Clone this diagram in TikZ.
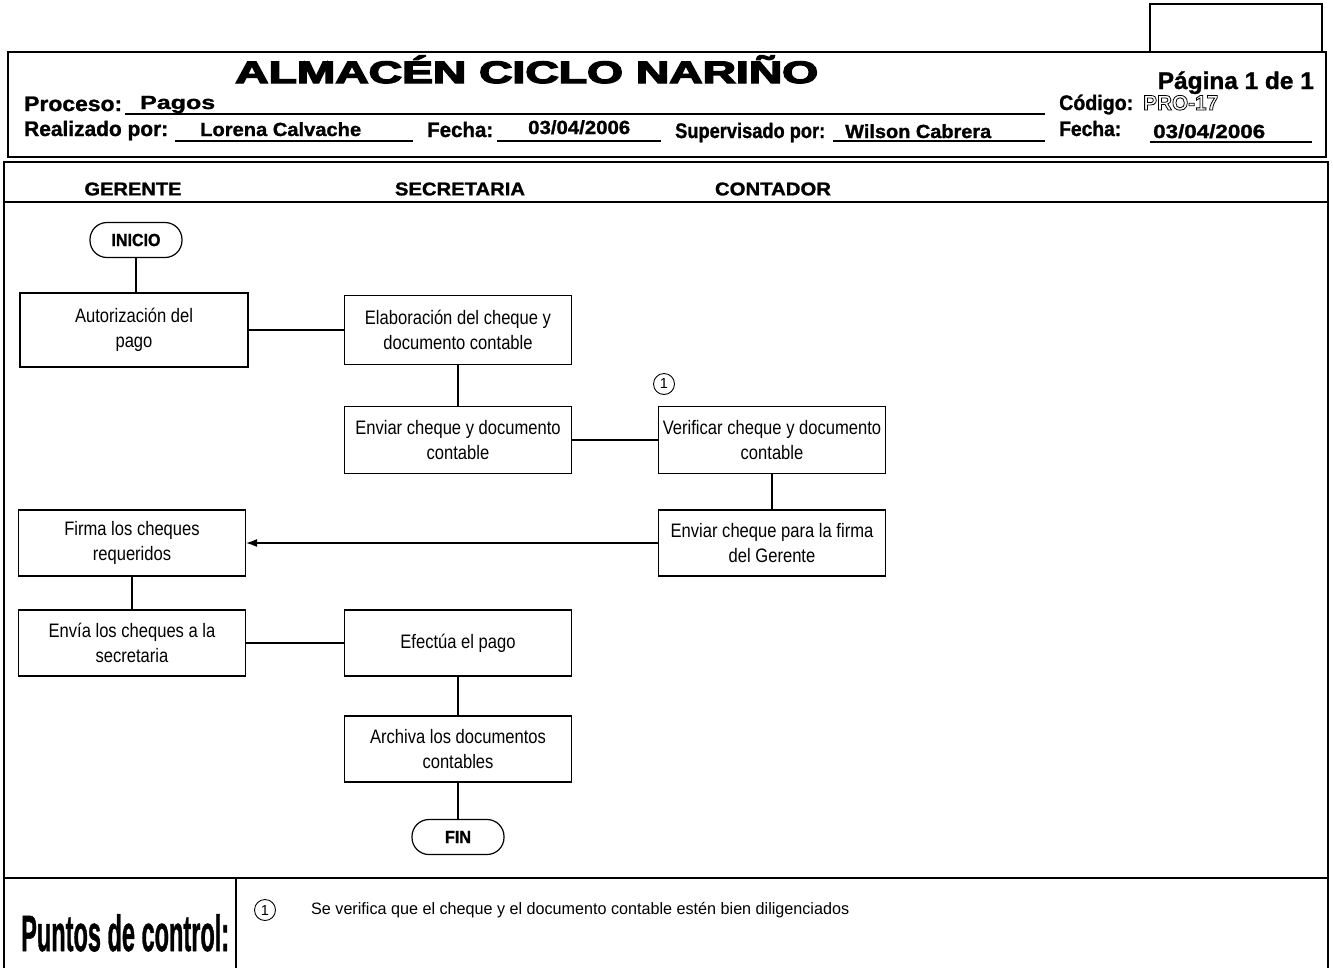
\documentclass[tikz,border=0pt]{standalone}
\usepackage{fontspec}
\usepackage{graphicx}
\setmainfont{Liberation Sans}
\newfontfamily\boxfont[FakeStretch=0.85]{Liberation Sans}
\newfontfamily\heavy[FakeBold=1.2]{Liberation Sans Bold}
\newfontfamily\blackfont[FakeBold=4]{Liberation Sans Bold}
\usetikzlibrary{arrows.meta}

% squeeze or widen a line of text to a given width, keeping its height
\newcommand\fitw[2]{\resizebox{#1pt}{\height}{#2}}
% outlined glyphs (text render mode 1)
\newcommand\outlined[1]{\special{pdf:literal q 1 Tr 0.8 w}#1\special{pdf:literal Q}}

\tikzset{
  frame/.style={line width=1.6pt},
  thin/.style={line width=1.1pt},
  proc/.style={draw, line width=1.2pt, minimum width=227pt, minimum height=67pt,
    align=center, inner sep=0pt, font=\boxfont\fontsize{19.5}{25}\selectfont},
  term/.style={draw, line width=1.2pt, rounded corners=17pt, minimum width=92pt,
    minimum height=35pt, inner sep=0pt, font=\heavy\fontsize{17.5}{17.5}\selectfont},
  link/.style={line width=1.2pt},
  mark1/.style={circle, draw, line width=0.9pt, minimum size=21pt, inner sep=0pt,
    font=\fontsize{14.5}{14.5}\selectfont},
  lbl/.style={anchor=base west, inner sep=0pt, font=\heavy\fontsize{21}{21}\selectfont},
  val/.style={anchor=base west, inner sep=0pt, font=\heavy\fontsize{19}{19}\selectfont},
  lane/.style={inner sep=0pt, font=\heavy\fontsize{18.5}{18.5}\selectfont},
}

\begin{document}
\begin{tikzpicture}[x=1pt, y=-1pt]
\clip (0,0) rectangle (1333,967);
\fill[white] (0,0) rectangle (1333,967);

% ---------- heading block ----------
\draw[thin] (1150,4) rectangle (1322,52);
\draw[frame] (8,52) rectangle (1326,157);

\node[anchor=base west, inner sep=0pt, font=\blackfont\fontsize{31}{31}\selectfont]
  (title) at (235,83) {\fitw{583}{ALMACÉN CICLO NARIÑO}};
\node[anchor=base east, inner sep=0pt, font=\heavy\fontsize{24}{24}\selectfont]
  (page) at (1314,89) {\fitw{156}{Página 1 de 1}};

\node[lbl] (proc) at (24,111) {\fitw{98}{Proceso:}};
\node[val] (procv) at (140,109) {\fitw{75}{Pagos}};
\draw[thin] (125,114) -- (1045,114);

\node[lbl] (cod) at (1059,110) {\fitw{74}{Código:}};
\node[anchor=base west, inner sep=0pt, font=\bfseries\fontsize{21}{21}\selectfont]
  (codv) at (1143,110) {\fitw{75}{\outlined{PRO-17}}};

\node[lbl] (real) at (24,136) {\fitw{144}{Realizado por:}};
\node[val] (realv) at (200,136) {\fitw{161}{Lorena Calvache}};
\draw[thin] (175,141) -- (413,141);

\node[lbl] (fe1) at (427,137) {\fitw{66}{Fecha:}};
\node[val] (fe1v) at (528,134) {\fitw{102}{03/04/2006}};
\draw[thin] (497,141) -- (661,141);

\node[lbl] (sup) at (675,138) {\fitw{150}{Supervisado por:}};
\node[val] (supv) at (845,138) {\fitw{146}{Wilson Cabrera}};
\draw[thin] (833,141) -- (1045,141);

\node[lbl] (fe2) at (1059,136) {\fitw{62}{Fecha:}};
\node[val] (fe2v) at (1153,138) {\fitw{112}{03/04/2006}};
\draw[thin] (1150,142) -- (1312,142);

% ---------- body frame and lanes ----------
\draw[frame] (4,970) -- (4,162) -- (1328,162) -- (1328,970);
\draw[frame] (4,202) -- (1328,202);
\draw[frame] (4,878) -- (1328,878);
\draw[frame] (236,878) -- (236,970);

\node[lane] (l1) at (133,189) {\fitw{97}{GERENTE}};
\node[lane] (l2) at (460,189) {\fitw{130}{SECRETARIA}};
\node[lane] (l3) at (773,189) {\fitw{116}{CONTADOR}};

% ---------- flow ----------
\node[term] (ini) at (136,240) {\fitw{49}{INICIO}};
\node[proc, minimum width=228pt, minimum height=74pt] (aut) at (134,330)
  {Autorización del\\pago};
\node[proc, minimum height=69pt] (ela) at (458,330)
  {Elaboración del cheque y\\documento contable};
\node[proc] (env) at (458,440) {Enviar cheque y documento\\contable};
\node[proc] (ver) at (772,440) {Verificar cheque y documento\\contable};
\node[mark1] (m1) at (664,384) {1};
\node[proc, minimum height=66pt] (efi) at (772,543)
  {Enviar cheque para la firma\\del Gerente};
\node[proc, minimum height=66pt] (fir) at (132,543)
  {Firma los cheques\\requeridos};
\node[proc, minimum height=66pt] (sec) at (132,643)
  {Envía los cheques a la\\secretaria};
\node[proc, minimum height=66pt] (pag) at (458,643) {Efectúa el pago};
\node[proc, minimum height=66pt] (arc) at (458,749)
  {Archiva los documentos\\contables};
\node[term] (fin) at (458,837) {\fitw{26}{FIN}};

\draw[link] (ini) -- (ini |- aut.north);
\draw[link] (aut) -- (ela);
\draw[link] (ela) -- (env);
\draw[link] (env) -- (ver);
\draw[link] (ver) -- (efi);
\draw[link, -{Latex[length=11pt, width=8pt]}] (efi) -- (fir);
\draw[link] (fir) -- (sec);
\draw[link] (sec) -- (pag);
\draw[link] (pag) -- (arc);
\draw[link] (arc) -- (fin);

% ---------- control points ----------
\node[anchor=base west, inner sep=0pt, font=\heavy\fontsize{51}{51}\selectfont]
  (pc) at (21,951) {\fitw{208}{Puntos de control:}};
\node[mark1] (m2) at (265,910) {1};
\node[anchor=west, inner sep=0pt, font=\fontsize{16.5}{16.5}\selectfont]
  (note) at (311,910)
  {\fitw{538}{Se verifica que el cheque y el documento contable estén bien diligenciados}};
\end{tikzpicture}
\end{document}
